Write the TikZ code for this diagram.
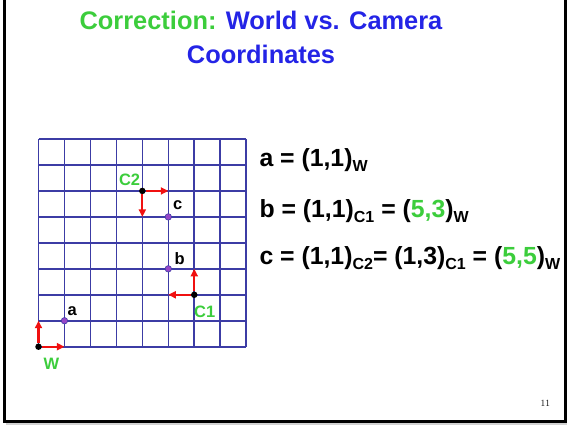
\documentclass[tikz,border=0pt]{standalone}
\usepackage{fontspec}
\setsansfont{Liberation Sans}
\usetikzlibrary{arrows.meta,positioning}

\definecolor{slidegreen}{RGB}{60,205,60}
\definecolor{slideblue}{RGB}{36,36,230}
\definecolor{gridblue}{RGB}{60,60,165}
\definecolor{axisred}{RGB}{240,16,16}
\definecolor{ptpurple}{RGB}{150,70,200}

\newcommand{\frsub}[1]{\raisebox{-5bp}{\fontsize{16bp}{16bp}\selectfont #1}}

\tikzset{
    gridline/.style={gridblue, line width=1.6bp},
    axis/.style={axisred, line width=2.3bp, -{Triangle[length=7.5bp,width=7bp]}},
    origin/.style={circle, fill=black, inner sep=0pt, minimum size=6.5bp},
    pt/.style={circle, fill=ptpurple, draw=gridblue, line width=0.6bp, inner sep=0pt, minimum size=6.5bp},
    ptlabel/.style={inner sep=0pt, font=\fontsize{16.5bp}{16.5bp}\selectfont\sffamily\bfseries},
    eqline/.style={anchor=base west, inner sep=0pt, font=\fontsize{24.8bp}{24.8bp}\selectfont\sffamily\bfseries},
    title/.style={anchor=base, inner sep=0pt, slideblue, font=\fontsize{25.4bp}{25.4bp}\selectfont\sffamily\bfseries},
}

\begin{document}
\begin{tikzpicture}[x=1bp, y=1bp]
    \useasboundingbox (0,0) rectangle (573,428);

    % Slide frame
    \draw[gray!35, line width=1.5bp] (6,4.2) -- (567,4.2);
    \draw[line width=3bp] (4.5,432) -- (4.5,7) -- (565.8,7) -- (565.8,432);

    % Title
    \node[title] (title1) at (261,398) {\textcolor{slidegreen}{Correction:} World vs. Camera};
    \node[title] (title2) at (261,364.7) {Coordinates};

    \begin{scope}[shift={(38.5,81.3)}, x=25.96bp, y=25.96bp]
        % Grid
        \foreach \i in {0,...,8} {
            \draw[gridline] (\i,0) -- (\i,8);
            \draw[gridline] (0,\i) -- (8,\i);
        }

        % Frames
        \foreach \n/\p in {W/{0,0}, C1/{6,2}, C2/{4,6}}
            \node[origin] (\n) at (\p) {};
        \coordinate (Wx) at (1,0);
        \coordinate (Wy) at (0,1);
        \coordinate (C1x) at (5,2);
        \coordinate (C1y) at (6,3);
        \coordinate (C2x) at (5,6);
        \coordinate (C2y) at (4,5);
        \foreach \n in {W, C1, C2} {
            \draw[axis] (\n) -- (\n x);
            \draw[axis] (\n) -- (\n y);
        }

        % Points
        \foreach \n/\p in {a/{1,1}, b/{5,3}, c/{5,5}}
            \node[pt] (\n) at (\p) {};

        % Labels
        \foreach \n/\p/\t/\c in {lW/{0.50,-0.65}/W/slidegreen, lC1/{6.40,1.36}/C1/slidegreen,
                                 lC2/{3.51,6.42}/C2/slidegreen, la/{1.30,1.36}/a/black,
                                 lb/{5.44,3.40}/b/black, lc/{5.36,5.46}/c/black}
            \node[ptlabel, text=\c] (\n) at (\p) {\t};
    \end{scope}

    % Coordinates of the points
    \node[eqline] (eqa) at (259.3,261.3) {a = (1,1)\frsub{W}};
    \node[eqline] (eqb) at (259.3,210.7) {b = (1,1)\frsub{C1} = (\textcolor{slidegreen}{5,3})\frsub{W}};
    \node[eqline] (eqc) at (259.3,164) {c = (1,1)\frsub{C2}= (1,3)\frsub{C1} = (\textcolor{slidegreen}{5,5})\frsub{W}};

    % Slide number
    \node[font=\fontsize{9.5bp}{9.5bp}\selectfont] (num) at (545.3,25) {11};
\end{tikzpicture}
\end{document}
